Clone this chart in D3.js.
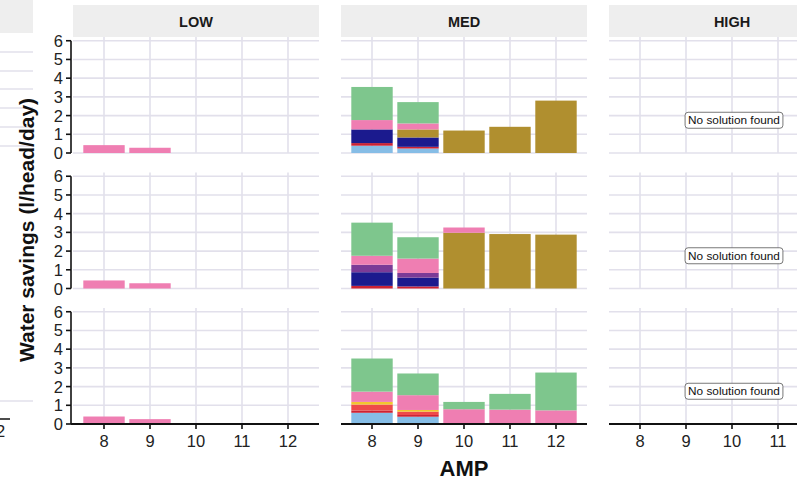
<!DOCTYPE html>
<html><head><meta charset="utf-8">
<script src="https://cdn.jsdelivr.net/npm/d3@7"></script>
<style>body{margin:0;background:#fff}svg{display:block}text{font-family:"Liberation Sans",Arial,Helvetica,sans-serif}</style>
</head><body><svg id="c" width="797" height="488"></svg>
<script>
const ampLevels = ["8","9","10","11","12"];
const groups = ["LOW","MED","HIGH"];
const seriesKeys = ["lightblue","darkred","coral","yellow","navy","purple","olive","pink","green"];
const seriesColors = ["#86bde6","#cc2233","#ef4a4a","#f2c62e","#1b1a8e","#7b3b97","#b08f2f","#ef7eb2","#7ec68d"];
const yTicks = [0,1,2,3,4,5,6];
const noSolutionGroups = ["HIGH"];
const noSolutionText = "No solution found";
const noSolutionAt = ["10", 1.75];

// [group, AMP, series, value]
const row1Values = [
  ["LOW","8","pink",0.42],["LOW","9","pink",0.28],
  ["MED","8","lightblue",0.39],["MED","8","darkred",0.14],["MED","8","navy",0.73],["MED","8","pink",0.5],["MED","8","green",1.77],
  ["MED","9","lightblue",0.24],["MED","9","darkred",0.09],["MED","9","navy",0.5],["MED","9","olive",0.43],["MED","9","pink",0.32],["MED","9","green",1.14],
  ["MED","10","olive",1.2],["MED","11","olive",1.4],["MED","12","olive",2.8]
];
const row2Values = [
  ["LOW","8","pink",0.43],["LOW","9","pink",0.28],
  ["MED","8","darkred",0.14],["MED","8","navy",0.73],["MED","8","purple",0.4],["MED","8","pink",0.48],["MED","8","green",1.77],
  ["MED","9","darkred",0.11],["MED","9","navy",0.47],["MED","9","purple",0.25],["MED","9","pink",0.77],["MED","9","green",1.14],
  ["MED","10","olive",2.98],["MED","10","pink",0.28],["MED","11","olive",2.91],["MED","12","olive",2.88]
];
const row3Values = [
  ["LOW","8","pink",0.4],["LOW","9","pink",0.26],
  ["MED","8","lightblue",0.6],["MED","8","darkred",0.12],["MED","8","coral",0.32],["MED","8","yellow",0.14],["MED","8","pink",0.55],["MED","8","green",1.77],
  ["MED","9","lightblue",0.39],["MED","9","darkred",0.09],["MED","9","coral",0.18],["MED","9","yellow",0.09],["MED","9","pink",0.79],["MED","9","green",1.16],
  ["MED","10","pink",0.79],["MED","10","green",0.39],
  ["MED","11","pink",0.77],["MED","11","green",0.84],
  ["MED","12","pink",0.73],["MED","12","green",2.02]
];
const rows = [row1Values,row2Values,row3Values];

const svg = d3.select("#c");
const colX = [73,341,609], panelW = 246;
const rowTop = [37,172.5,308], panelH = 116;
const gridCol = "#e2e0eb";
const color = d3.scaleOrdinal().domain(seriesKeys).range(seriesColors);

// partial neighbouring figure at the far left edge
svg.append("rect").attr("x",0).attr("y",0).attr("width",33).attr("height",33).attr("fill","#eeeeee");
[52,71,89,108,127,146,401].forEach(y=>svg.append("line").attr("x1",0).attr("x2",33).attr("y1",y).attr("y2",y).attr("stroke",gridCol).attr("stroke-width",1.5));
svg.append("line").attr("x1",0).attr("x2",10).attr("y1",419).attr("y2",419).attr("stroke","#111").attr("stroke-width",1.5);
svg.append("text").attr("x",-4).attr("y",437).attr("font-size",16.5).attr("fill","#222").text("2");

const x = d3.scaleBand().domain(ampLevels).range([0,panelW]).paddingInner(0.1).paddingOuter(0.224);
const y = d3.scaleLinear().domain([0,6.2]).range([panelH,0]);

groups.forEach((g,gi)=>{
  svg.append("rect").attr("x",colX[gi]).attr("y",5).attr("width",panelW).attr("height",32).attr("fill","#eeeeee");
  svg.append("text").attr("x",colX[gi]+panelW/2).attr("y",26.5).attr("text-anchor","middle")
     .attr("font-size",14.5).attr("font-weight","bold").attr("fill","#1a1a1a").text(g);
  rows.forEach((vals,ri)=>{
    const p = svg.append("g").attr("transform",`translate(${colX[gi]},${rowTop[ri]})`);
    yTicks.forEach(t=>p.append("line").attr("x1",0).attr("x2",panelW).attr("y1",y(t)).attr("y2",y(t)).attr("stroke",gridCol).attr("stroke-width",1.6));
    ampLevels.forEach(a=>{const cx=x(a)+x.bandwidth()/2;p.append("line").attr("x1",cx).attr("x2",cx).attr("y1",0).attr("y2",panelH).attr("stroke",gridCol).attr("stroke-width",1.6);});
    const table = ampLevels.map(a=>{
      const o={amp:a}; seriesKeys.forEach(s=>o[s]=0);
      vals.filter(v=>v[0]===g&&v[1]===a).forEach(v=>o[v[2]]+=v[3]);
      return o;});
    const stacked = d3.stack().keys(seriesKeys)(table);
    stacked.forEach(layer=>{
      p.selectAll(null).data(layer.filter(d=>d[1]-d[0]>0)).enter().append("rect")
        .attr("x",d=>x(d.data.amp)).attr("width",x.bandwidth())
        .attr("y",d=>y(d[1])).attr("height",d=>y(d[0])-y(d[1]))
        .attr("fill",color(layer.key));
    });
    if(noSolutionGroups.includes(g)){
      const lx = x(noSolutionAt[0])+x.bandwidth()/2+2, ly = y(noSolutionAt[1]);
      const t = p.append("text").attr("x",lx).attr("y",ly+4.2).attr("text-anchor","middle").attr("font-size",11.8).attr("fill","#111").text(noSolutionText);
      const bb = t.node().getBBox();
      p.insert("rect","text").attr("x",bb.x-3).attr("y",ly-8).attr("width",bb.width+6).attr("height",16)
        .attr("rx",3).attr("fill","#fff").attr("stroke","#555").attr("stroke-width",0.8);
    }
    if(gi===0){
      const ax = svg.append("g").attr("transform",`translate(${colX[0]-2},${rowTop[ri]})`);
      ax.append("line").attr("x1",0).attr("x2",0).attr("y1",y(0)).attr("y2",y(6)).attr("stroke","#111").attr("stroke-width",1.6);
      yTicks.forEach(t=>{
        ax.append("line").attr("x1",-5).attr("x2",0).attr("y1",y(t)).attr("y2",y(t)).attr("stroke","#111").attr("stroke-width",1.6);
        ax.append("text").attr("x",-8).attr("y",y(t)+6).attr("text-anchor","end").attr("font-size",16.5).attr("fill","#222").text(t);
      });
    }
    if(ri===2){
      const ax = svg.append("g").attr("transform",`translate(${colX[gi]},${rowTop[ri]+panelH})`);
      ax.append("line").attr("x1",gi===0?-2:0).attr("x2",panelW).attr("y1",0).attr("y2",0).attr("stroke","#111").attr("stroke-width",1.8);
      ampLevels.forEach(a=>{const cx=x(a)+x.bandwidth()/2;
        ax.append("line").attr("x1",cx).attr("x2",cx).attr("y1",0).attr("y2",5).attr("stroke","#111").attr("stroke-width",1.6);
        ax.append("text").attr("x",cx).attr("y",23).attr("text-anchor","middle").attr("font-size",16.5).attr("fill","#222").text(a);});
    }
  });
});

svg.append("text").attr("transform","translate(34,230) rotate(-90)").attr("text-anchor","middle")
  .attr("font-size",21).attr("font-weight","bold").attr("fill","#111").text("Water savings (l/head/day)");
svg.append("text").attr("x",464).attr("y",476).attr("text-anchor","middle")
  .attr("font-size",22).attr("font-weight","bold").attr("fill","#111").text("AMP");
</script></body></html>
